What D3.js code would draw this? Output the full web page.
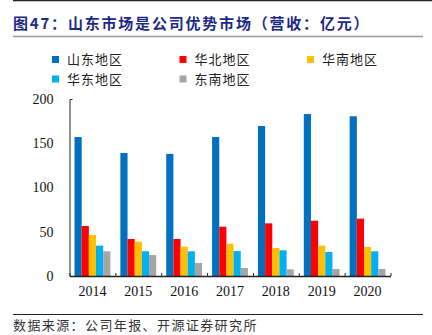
<!DOCTYPE html>
<html>
<head>
<meta charset="utf-8">
<script src="https://cdn.jsdelivr.net/npm/d3@7"></script>
<style>
  body { margin: 0; background: #fff; }
  svg { display: block; }
</style>
</head>
<body>
<svg id="chart" width="432" height="335"></svg>
<script>
// revenue by region, 亿元
const years = ["2014", "2015", "2016", "2017", "2018", "2019", "2020"];
const regions = ["山东地区", "华北地区", "华南地区", "华东地区", "东南地区"];
const shandong = [157, 139, 138, 157, 169.5, 183, 180.5];
const huabei   = [56.5, 41.8, 41.8, 55.7, 59.5, 62.5, 64.8];
const huanan   = [46.3, 38.8, 33.1, 36.5, 31.6, 34.3, 32.8];
const huadong  = [34.3, 27.9, 27.9, 28.2, 29, 27.1, 27.9];
const dongnan  = [27.9, 23.7, 14.7, 9, 7.5, 7.9, 7.9];
const yTicks = [0, 50, 100, 150, 200];

const series = [shandong, huabei, huanan, huadong, dongnan];
const colors = ["#0070C0", "#FF0000", "#FFC000", "#00B0F0", "#A5A5A5"];

const svg = d3.select("#chart");
const cjk = "'Noto Sans CJK SC', sans-serif";
const serif = "'Liberation Serif', 'Times New Roman', serif";

// header
svg.append("line")
    .attr("x1", 13).attr("x2", 432).attr("y1", 0.5).attr("y2", 0.5)
    .attr("stroke", "#222").attr("stroke-width", 1.5);
svg.append("text")
    .attr("x", 13).attr("y", 29)
    .attr("font-family", cjk).attr("font-size", 15).attr("font-weight", "bold")
    .attr("letter-spacing", 1.8)
    .attr("fill", "#1C2A86")
    .text("图47：山东市场是公司优势市场（营收：亿元）");
svg.append("line")
    .attr("x1", 13).attr("x2", 423).attr("y1", 36.5).attr("y2", 36.5)
    .attr("stroke", "#999").attr("stroke-width", 1.5);

// legend, three per row
const legend = svg.append("g").selectAll("g")
    .data(regions)
    .join("g")
    .attr("transform", (d, i) => `translate(${52 + (i % 3) * 127.5},${59.5 + Math.floor(i / 3) * 19.5})`);
legend.append("rect")
    .attr("x", 0).attr("y", -3.5).attr("width", 7).attr("height", 7)
    .attr("fill", (d, i) => colors[i]);
legend.append("text")
    .attr("x", 15).attr("dy", "0.36em")
    .attr("font-family", cjk).attr("font-size", 13).attr("letter-spacing", 1)
    .attr("fill", "#222")
    .text(d => d);

// plot area
const plotLeft = 69.5, plotRight = 390.5, plotTop = 99, plotBottom = 276;

const x = d3.scaleBand()
    .domain(years)
    .range([plotLeft, plotRight])
    .padding(0);

const xSub = d3.scaleBand()
    .domain(d3.range(regions.length))
    .range([0, x.bandwidth()])
    .paddingInner(0)
    .paddingOuter(0.7);

const y = d3.scaleLinear()
    .domain([0, 200])
    .range([plotBottom, plotTop]);

const groups = svg.append("g").selectAll("g")
    .data(years)
    .join("g")
    .attr("transform", d => `translate(${x(d)},0)`);

groups.selectAll("rect")
    .data((d, i) => series.map((s, k) => ({k, v: s[i]})))
    .join("rect")
    .attr("x", d => xSub(d.k))
    .attr("width", xSub.bandwidth())
    .attr("y", d => y(d.v))
    .attr("height", d => y(0) - y(d.v))
    .attr("fill", d => colors[d.k]);

// y axis: domain line with a short cap at the top
const yAxis = svg.append("g")
    .attr("transform", `translate(${plotLeft},0)`)
    .call(d3.axisLeft(y).tickValues(yTicks).tickSize(0).tickSizeOuter(-3).tickPadding(16));
yAxis.select(".domain").attr("stroke", "#222");
yAxis.selectAll("text")
    .attr("font-family", serif).attr("font-size", 14).attr("fill", "#111");

// x axis: category labels
const xAxis = svg.append("g")
    .attr("transform", `translate(0,${plotBottom})`)
    .call(d3.axisBottom(x).tickSize(0).tickPadding(10));
xAxis.select(".domain").remove();
xAxis.selectAll("text")
    .attr("font-family", serif).attr("font-size", 14).attr("fill", "#111");

// x axis: baseline with inward ticks between categories
const edges = d3.scaleLinear().domain([0, years.length]).range([plotLeft, plotRight]);
const xGrid = svg.append("g")
    .attr("transform", `translate(0,${plotBottom})`)
    .call(d3.axisBottom(edges).ticks(years.length).tickSizeInner(-3).tickSizeOuter(0).tickFormat(""));
xGrid.selectAll("line, .domain").attr("stroke", "#222");
xGrid.select(".domain").attr("stroke-width", 1.5);

// footer
svg.append("line")
    .attr("x1", 13).attr("x2", 423).attr("y1", 314.5).attr("y2", 314.5)
    .attr("stroke", "#222").attr("stroke-width", 1);
svg.append("text")
    .attr("x", 13).attr("y", 330)
    .attr("font-family", cjk).attr("font-size", 13).attr("letter-spacing", 1.4)
    .attr("fill", "#333")
    .text("数据来源：公司年报、开源证券研究所");
</script>
</body>
</html>
